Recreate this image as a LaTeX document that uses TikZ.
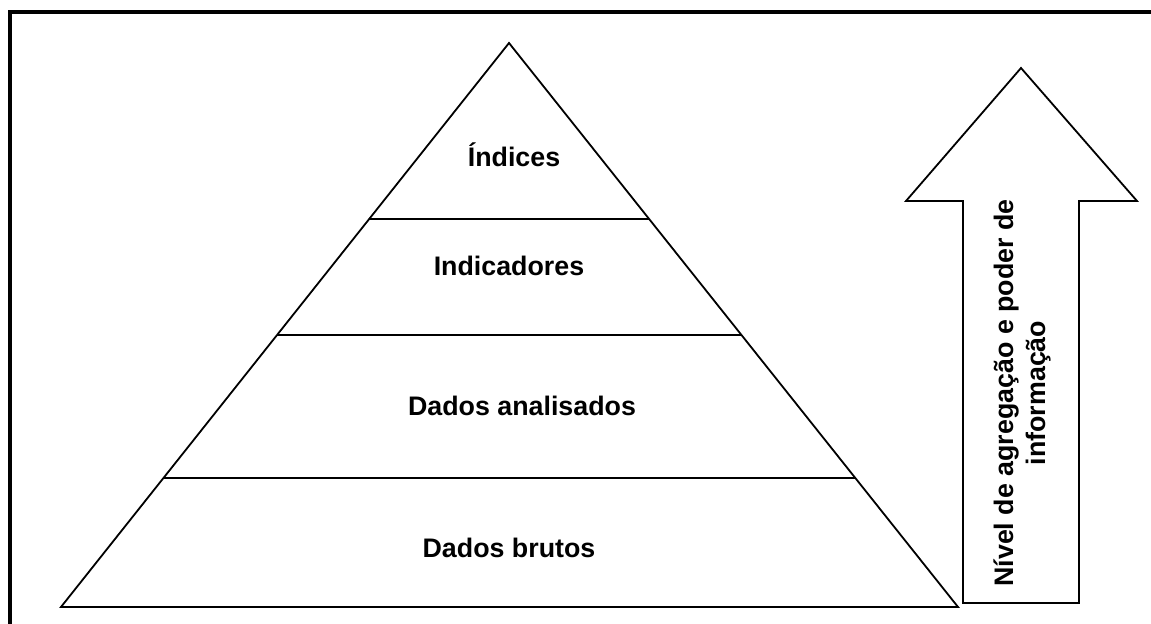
\documentclass[tikz,border=0pt]{standalone}
\usepackage{fontspec}
\setmainfont{Liberation Sans}
\usetikzlibrary{calc}
\newcommand{\layerlabel}{\node[font=\bfseries\fontsize{13.4}{16}\selectfont]}
\newcommand{\levelarrow}{\draw[line width=0.9pt,line join=miter,fill=white]}

\begin{document}
\begin{tikzpicture}[x=0.5pt,y=-0.5pt,line width=0.9pt]
\useasboundingbox (0,0) rectangle (1151,624);
%frame (cut off at right and bottom)
\draw[line width=2pt] (10,624) -- (10,12) -- (1151,12);

%pyramid
\coordinate (apex) at (509,43);
\coordinate (bl) at (61,607);
\coordinate (br) at (958,607);
\draw[line join=miter] (apex) -- (br) -- (bl) -- cycle;
\draw ($(apex)!0.312!(bl)$) -- ($(apex)!0.312!(br)$);
\draw ($(apex)!0.518!(bl)$) -- ($(apex)!0.518!(br)$);
\draw ($(apex)!0.771!(bl)$) -- ($(apex)!0.771!(br)$);

\layerlabel (ind) at (514,155) {Índices};
\layerlabel (indic) at (509,266) {Indicadores};
\layerlabel (anal) at (522,406) {Dados analisados};
\layerlabel (brut) at (509,548) {Dados brutos};

%arrow on the right
\levelarrow (1021,68) -- (1137,201) -- (1079,201) -- (1079,603)
  -- (963,603) -- (963,201) -- (906,201) -- cycle;
\layerlabel[rotate=90,align=center] (lvl) at (1022,393)
  {Nível de agregação e poder de\\informação};

\end{tikzpicture}
\end{document}
